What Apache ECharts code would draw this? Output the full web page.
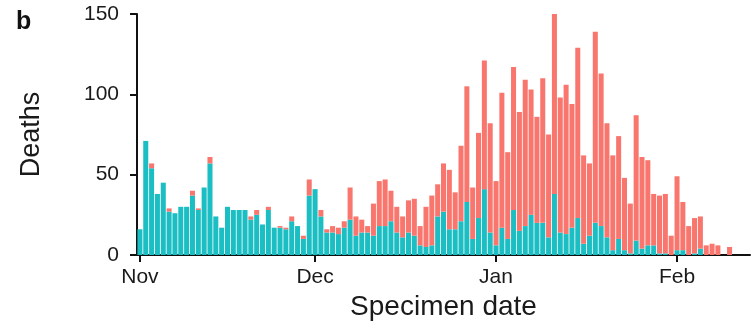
<!DOCTYPE html>
<html>
<head>
<meta charset="utf-8">
<script src="https://cdn.jsdelivr.net/npm/echarts@6/dist/echarts.min.js"></script>
<style>html,body{margin:0;padding:0;background:#fff;}#c{width:751px;height:328px;}</style>
</head>
<body>
<div id="c"></div>
<script>
// Specimen dates (one category per day, Nov 1 - Feb 13)
var categories = [
 '11-01','11-02','11-03','11-04','11-05','11-06','11-07','11-08','11-09','11-10',
 '11-11','11-12','11-13','11-14','11-15','11-16','11-17','11-18','11-19','11-20',
 '11-21','11-22','11-23','11-24','11-25','11-26','11-27','11-28','11-29','11-30',
 '12-01','12-02','12-03','12-04','12-05','12-06','12-07','12-08','12-09','12-10',
 '12-11','12-12','12-13','12-14','12-15','12-16','12-17','12-18','12-19','12-20',
 '12-21','12-22','12-23','12-24','12-25','12-26','12-27','12-28','12-29','12-30','12-31',
 '01-01','01-02','01-03','01-04','01-05','01-06','01-07','01-08','01-09','01-10',
 '01-11','01-12','01-13','01-14','01-15','01-16','01-17','01-18','01-19','01-20',
 '01-21','01-22','01-23','01-24','01-25','01-26','01-27','01-28','01-29','01-30','01-31',
 '02-01','02-02','02-03','02-04','02-05','02-06','02-07','02-08','02-09','02-10',
 '02-11','02-12','02-13'
];
// Teal (bottom) series
var tealValues = [
 16,71,54,38,45,27,26,30,30,37,
 28,42,57,24,17,30,28,28,28,22,
 25,19,28,17,17,16,21,18,10,37,
 41,24,14,14,13,17,22,12,14,14,
 12,18,18,21,14,11,14,12,6,5,
 6,24,27,16,16,21,33,10,23,41,14,
 6,17,10,28,15,18,25,20,20,11,
 38,14,13,17,23,7,12,20,18,11,
 3,10,3,1,9,4,6,6,1,1,0,
 3,3,0,1,4,0,0,0,0,0,
 0,0,0
];
// Salmon (top) series
var redValues = [
 0,0,3,0,0,2,0,0,0,3,
 1,0,4,0,0,0,0,0,0,2,
 3,0,2,0,1,1,3,0,2,10,
 0,4,2,4,4,4,20,12,8,4,
 20,28,29,19,16,13,20,23,12,25,
 31,20,30,37,23,47,72,32,53,80,68,
 40,84,54,89,74,91,78,66,90,64,
 113,84,93,77,106,55,45,119,95,71,
 59,64,45,31,78,57,53,32,36,37,12,
 46,30,18,22,20,6,7,6,0,5,
 0,0,0
];
var tickDates = ['11-01','12-01','01-01','02-01'];
var tickLabels = ['Nov','Dec','Jan','Feb'];

var chart = echarts.init(document.getElementById('c'), null, {renderer: 'canvas'});
var font = 'Liberation Sans, Arial, Helvetica, sans-serif';
function isTick(index, value) { return tickDates.indexOf(value) >= 0; }
chart.setOption({
  animation: false,
  backgroundColor: '#ffffff',
  title: {
    text: 'b', left: 11, top: 5,
    textStyle: {fontFamily: font, fontSize: 25, fontWeight: 'bold', color: '#111'}
  },
  grid: {left: 137, right: 1, top: 14, bottom: 73, containLabel: false},
  xAxis: {
    type: 'category',
    data: categories,
    boundaryGap: true,
    name: 'Specimen date',
    nameLocation: 'middle',
    nameGap: 35,
    nameTextStyle: {fontFamily: font, fontSize: 28, color: '#1a1a1a'},
    axisLine: {show: true, lineStyle: {color: '#111', width: 2}},
    axisTick: {show: true, alignWithLabel: true, interval: isTick, length: 7, lineStyle: {color: '#111', width: 2}},
    axisLabel: {
      show: true, interval: isTick, margin: 12,
      fontFamily: font, fontSize: 21, color: '#1a1a1a',
      formatter: function (v) { var i = tickDates.indexOf(v); return i >= 0 ? tickLabels[i] : ''; }
    },
    splitLine: {show: false}
  },
  yAxis: {
    type: 'value',
    min: 0, max: 150, interval: 50,
    name: 'Deaths',
    nameLocation: 'middle',
    nameRotate: 90,
    nameGap: 92,
    nameTextStyle: {fontFamily: font, fontSize: 27, color: '#1a1a1a'},
    axisLine: {show: true, lineStyle: {color: '#111', width: 2}},
    axisTick: {show: true, length: 7, lineStyle: {color: '#111', width: 2}},
    axisLabel: {margin: 18, fontFamily: font, fontSize: 21, color: '#1a1a1a'},
    splitLine: {show: false}
  },
  series: [
    {
      name: 'teal', type: 'bar', stack: 'd', data: tealValues,
      barCategoryGap: '14%',
      itemStyle: {color: '#1ABEC3'}
    },
    {
      name: 'red', type: 'bar', stack: 'd', data: redValues,
      barCategoryGap: '14%',
      itemStyle: {color: '#F8766D'}
    }
  ]
});
</script>
</body>
</html>
